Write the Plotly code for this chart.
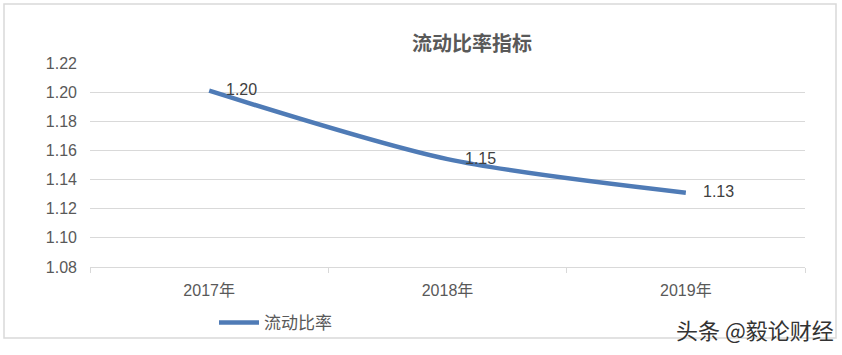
import plotly.graph_objects as go

years = ["2017年", "2018年", "2019年"]
ratio = [1.201, 1.154, 1.131]
labels = ["1.20", "1.15", "1.13"]
y_ticks = [1.08, 1.10, 1.12, 1.14, 1.16, 1.18, 1.20, 1.22]

L, R, T, B = 90, 37, 63, 88
W, H = 842, 355
pw, ph = W - L - R, H - T - B

def px(x):
    return (x - L) / pw

def py(y):
    return (H - B - y) / ph

fig = go.Figure()
fig.add_trace(go.Scatter(
    x=years, y=ratio, mode="lines", name="流动比率",
    line=dict(color="#4F7BB6", width=4.5, shape="spline", smoothing=0.8),
    cliponaxis=False,
))

annotations = [dict(text=t, x=xv, y=yv, xref="x", yref="y", showarrow=False,
                    xanchor="left", yanchor="middle", xshift=15, yshift=1,
                    font=dict(family="Liberation Sans, Arial", size=16, color="#404040"))
               for xv, yv, t in zip(years, ratio, labels)]
annotations.append(dict(text="头条 @毅论财经", xref="paper", yref="paper",
                        x=px(836), xanchor="right", y=py(329), yanchor="middle",
                        showarrow=False,
                        font=dict(size=22, color="#333333", family="Noto Sans CJK SC")))

fig.update_layout(
    width=W, height=H,
    margin=dict(l=L, r=R, t=T, b=B),
    paper_bgcolor="white", plot_bgcolor="white",
    font=dict(family="Noto Sans CJK SC, Liberation Sans", color="#595959"),
    title=dict(text="<b>流动比率指标</b>", xref="container", x=472 / W, xanchor="center",
               yref="container", y=1 - 44 / H, yanchor="middle",
               font=dict(size=20, color="#595959", family="Noto Sans CJK SC")),
    showlegend=True,
    legend=dict(orientation="h", x=px(214), xanchor="left", y=py(323), yanchor="middle",
                font=dict(size=17, color="#595959", family="Noto Sans CJK SC"),
                itemwidth=40, bgcolor="rgba(0,0,0,0)"),
    xaxis=dict(type="category", showgrid=False, showline=True, linecolor="#d9d9d9", linewidth=1,
               ticks="outside", tickson="boundaries", ticklen=5, tickcolor="#d9d9d9",
               tickfont=dict(size=16, color="#595959", family="Liberation Sans, Noto Sans CJK SC"),
               ticklabelstandoff=9,
               range=[-0.5, 2.5], fixedrange=True),
    yaxis=dict(range=[1.08, 1.22], tickvals=y_ticks, ticktext=[f"{v:.2f}" for v in y_ticks],
               showgrid=True, gridcolor="#d9d9d9", gridwidth=1, zeroline=False, showline=False,
               tickfont=dict(size=16, color="#595959", family="Liberation Sans, Arial"),
               ticks="", ticklabelstandoff=12),
    shapes=[dict(type="rect", xref="paper", yref="paper",
                 x0=px(4), x1=px(836), y0=py(338), y1=py(4),
                 line=dict(color="#d9d9d9", width=1.5), fillcolor="rgba(0,0,0,0)", layer="below")],
    annotations=annotations,
)

fig.write_html("out.html")
